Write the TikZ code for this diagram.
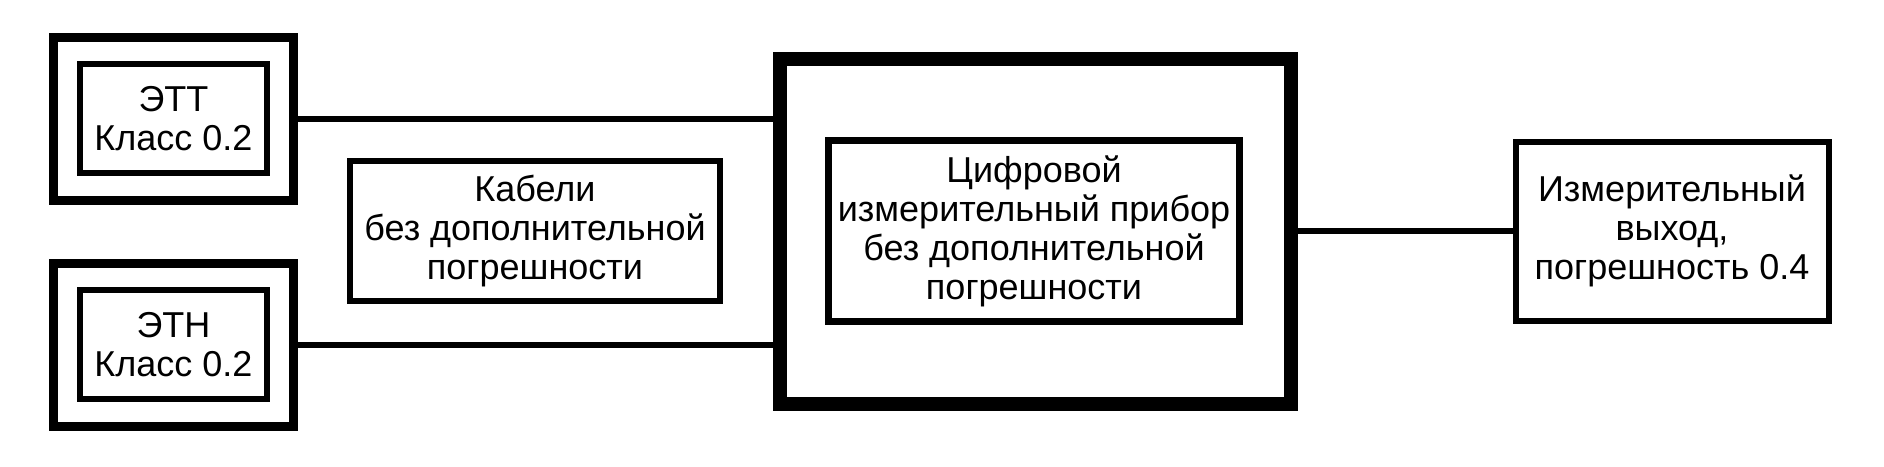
\documentclass[tikz,border=0pt]{standalone}
\usepackage{fontspec}
\setmainfont{Liberation Sans}
\usepackage{tikz}
\usetikzlibrary{positioning,calc}

\begin{document}
\begin{tikzpicture}[x=0.5pt,y=-0.5pt,
  every node/.style={font=\fontsize{18pt}{19.5pt}\selectfont,align=center,inner sep=0pt},
  frame/.style ={rectangle,draw,line width=4.5pt,minimum width=120pt,minimum height=81.5pt},
  sensor/.style={rectangle,draw,line width=3pt,minimum width=93.5pt,minimum height=54.5pt},
  blk/.style   ={rectangle,draw,line width=3pt},
  wire/.style  ={line width=3pt}
]
\useasboundingbox (0,0) rectangle (1884,466);
\node[frame]  (ettf) at (173.5,118.5) {};
\node[sensor] (ett)  at (173.5,118.5) {ЭТТ\\Класс 0.2};
\node[frame]  (ethf) at (173.5,344.5) {};
\node[sensor] (eth)  at (173.5,344.5) {ЭТН\\Класс 0.2};
\node[blk,minimum width=185pt,minimum height=70pt] (cab) at (535,231)
  {Кабели\\без дополнительной\\погрешности};
\node[blk,line width=7pt,minimum width=255.5pt,minimum height=172.5pt] (dev) at (1035.5,231) {};
\node[blk,line width=3.25pt,minimum width=205.5pt,minimum height=90.5pt] (dig) at (1034,231)
  {Цифровой\\измерительный прибор\\без дополнительной\\погрешности};
\node[blk,minimum width=156.5pt,minimum height=89.5pt] (out) at (1672,231)
  {Измерительный\\выход,\\погрешность 0.4};
\foreach \s in {ettf,ethf}
  \draw[wire] (\s.east) -- (\s.east -| dev.west);
\draw[wire] (dev.east) -- (out.west);
\end{tikzpicture}
\end{document}
